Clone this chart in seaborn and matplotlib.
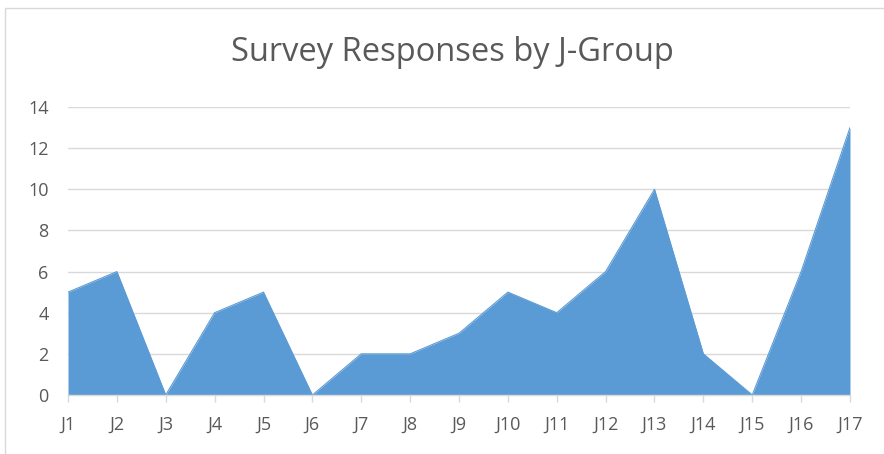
import matplotlib
matplotlib.use("Agg")
import matplotlib.pyplot as plt
import seaborn as sns
import pandas as pd
from matplotlib.patches import Rectangle

categories = ["J1", "J2", "J3", "J4", "J5", "J6", "J7", "J8", "J9", "J10",
              "J11", "J12", "J13", "J14", "J15", "J16", "J17"]
responses = [5, 6, 0, 4, 5, 0, 2, 2, 3, 5, 4, 6, 10, 2, 0, 6, 13]
y_ticks = [0, 2, 4, 6, 8, 10, 12, 14]

sns.set_theme(style="white")
plt.rcParams['font.family'] = ['Open Sans', 'DejaVu Sans']

df = pd.DataFrame({"group": categories, "count": responses, "pos": range(len(categories))})

fig = plt.figure(figsize=(8.84, 4.54), dpi=100)
ax = fig.add_axes([68/884, 1-395/454, (850-68)/884, (395-107)/454])

color = "#5B9BD5"
sns.lineplot(data=df, x="pos", y="count", ax=ax, color=color, linewidth=0.8)
ax.fill_between(df["pos"], df["count"], 0, color=color, linewidth=0)

ax.set_xlim(0, len(categories) - 1)
ax.set_ylim(0, 14)
ax.set_yticks(y_ticks)
ax.set_yticklabels([str(v) for v in y_ticks])
ax.set_xticks(df["pos"])
ax.set_xticklabels(categories)
ax.set_xlabel("")
ax.set_ylabel("")

ax.yaxis.grid(True, color="#D9D9D9", linewidth=1)
ax.set_axisbelow(True)
for s in ["top", "right", "left"]:
    ax.spines[s].set_visible(False)
ax.spines["bottom"].set_color("#D9D9D9")
ax.spines["bottom"].set_linewidth(1)

ax.tick_params(axis="x", colors="#595959", labelsize=13, length=5, width=1,
               direction="out", pad=10, bottom=True)
ax.tick_params(axis="x", color="#D9D9D9")
ax.tick_params(axis="y", colors="#595959", labelsize=13, length=0, pad=14)

fig.text(452/884, 1-61/454, "Survey Responses by J-Group", ha="center", va="baseline",
         fontsize=23.5, color="#595959")

fig.patches.append(Rectangle((5/884, -0.1), 1.2, 1.1 - 8/454, transform=fig.transFigure,
                             fill=False, edgecolor="#D9D9D9", linewidth=1))

fig.savefig("out.png", dpi=100)
